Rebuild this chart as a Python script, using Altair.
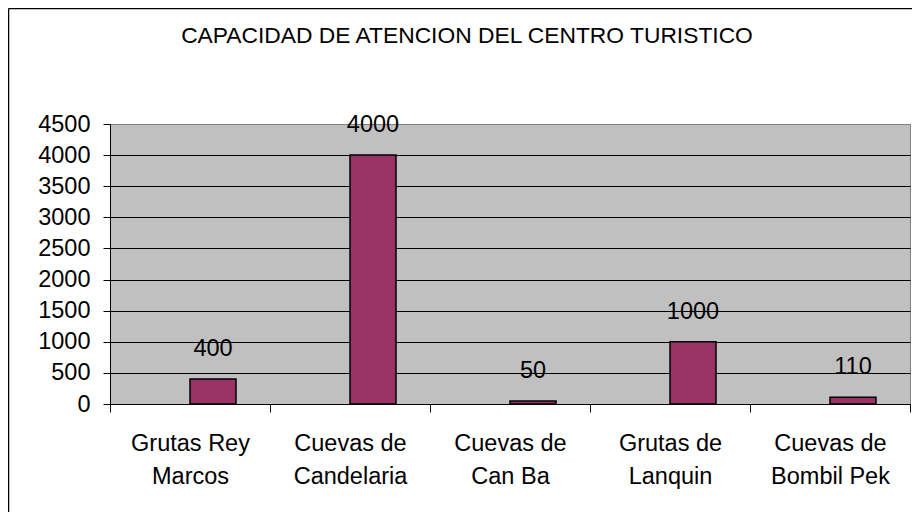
import altair as alt
import pandas as pd

categories = ["Grutas Rey\nMarcos", "Cuevas de\nCandelaria", "Cuevas de\nCan Ba",
              "Grutas de\nLanquin", "Cuevas de\nBombil Pek"]
values = [400, 4000, 50, 1000, 110]
series_domain = ["s1", "s2"]
series_used = "s2"
title_text = "CAPACIDAD DE ATENCION DEL CENTRO TURISTICO"
y_ticks = [0, 500, 1000, 1500, 2000, 2500, 3000, 3500, 4000, 4500]

df = pd.DataFrame({"lugar": categories, "valor": values,
                   "serie": [series_used] * len(categories)})

FONT = "Liberation Sans"
FS = 23.5

x = alt.X("lugar:N", sort=categories, title=None,
          scale=alt.Scale(paddingInner=0, paddingOuter=0),
          axis=alt.Axis(labelAngle=0, labelExpr="split(datum.label, '\\n')",
                        labelFontSize=FS, labelFont=FONT, labelColor="black",
                        labelLineHeight=33, labelPadding=19, labelBaseline="top",
                        tickBand="extent", tickSize=8, tickColor="black",
                        domainColor="black", grid=False))
xo = alt.XOffset("serie:N", scale=alt.Scale(domain=series_domain, paddingInner=0,
                                             paddingOuter=0.739))
y = alt.Y("valor:Q", title=None, scale=alt.Scale(domain=[0, 4500], nice=False),
          axis=alt.Axis(values=y_ticks, format="d", grid=True,
                        gridColor={"condition": {"test": "datum.value === 4500", "value": "#808080"},
                                   "value": "black"},
                        gridOpacity=1, gridWidth=1, labelFontSize=FS, labelFont=FONT,
                        labelPadding=13, tickSize=7, tickColor="black",
                        domainColor="black", labelColor="black"))

base = alt.Chart(df)
bars = base.mark_bar(color="#993366", stroke="black", strokeWidth=1.5).encode(
    x=x, xOffset=xo, y=y)
labels = base.mark_text(dy=-23, baseline="alphabetic", fontSize=FS, font=FONT,
                        color="black").encode(x=x, xOffset=xo, y=y, text="valor:Q")

deco = alt.Chart(pd.DataFrame({"t": [title_text]}))
title = deco.mark_text(align="center", baseline="alphabetic", fontSize=22.8, font=FONT,
                       color="black").encode(x=alt.value(357), y=alt.value(-81), text="t:N")
left_border = deco.mark_rule(color="black", strokeWidth=1.5).encode(
    x=alt.value(-101.5), y=alt.value(-115.5), y2=alt.value(400))
top_border = deco.mark_rule(color="black", strokeWidth=1.5).encode(
    x=alt.value(-101.5), x2=alt.value(810), y=alt.value(-115.5))

chart = alt.layer(bars, labels, title, left_border, top_border).properties(
    width=800, height=280,
    autosize=alt.AutoSizeParams(type="none"),
    padding={"left": 102, "top": 116, "right": 2, "bottom": 108},
    background="white",
).configure_view(stroke="#808080", strokeWidth=1, fill="#C0C0C0")

chart.save("out.html", embed_options={"renderer": "svg", "actions": False})
